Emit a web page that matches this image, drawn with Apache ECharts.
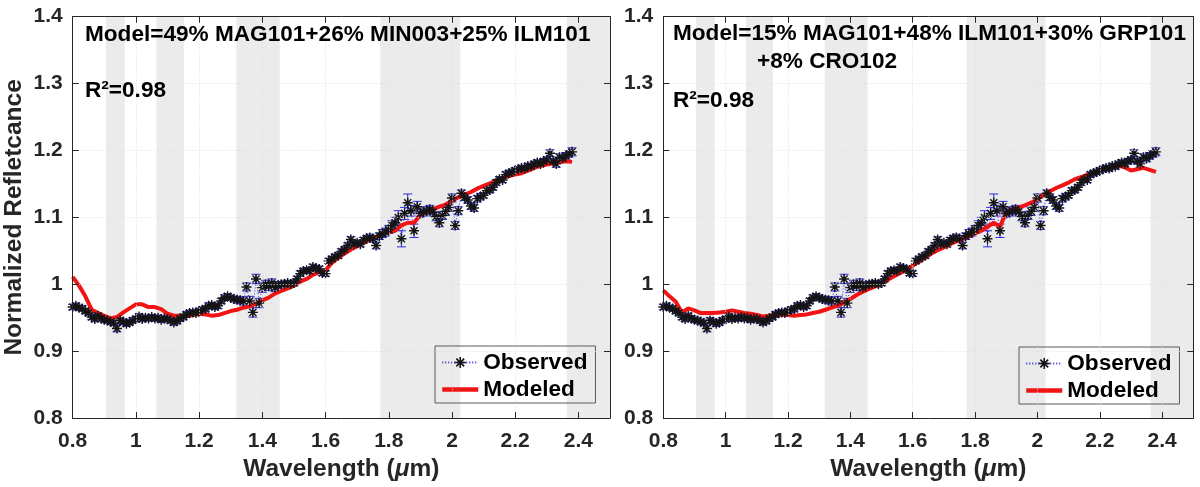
<!DOCTYPE html>
<html>
<head>
<meta charset="utf-8">
<title>Spectral fit</title>
<script src="https://cdn.jsdelivr.net/npm/echarts@6.0.0/dist/echarts.min.js"></script>
<style>
  html, body { margin: 0; padding: 0; background: #fff; }
  #main { width: 1200px; height: 487px; }
</style>
</head>
<body>
<div id="main"></div>
<script>
// observed spectrum (same in both panels), wavelength in micron
var wavelength = [
  0.80,0.81,0.82,0.83,0.84,0.85,0.86,0.87,0.88,0.89,
  0.90,0.91,0.92,0.93,0.94,0.95,0.96,0.97,0.98,0.99,
  1.00,1.01,1.02,1.03,1.04,1.05,1.06,1.07,1.08,1.09,
  1.10,1.11,1.12,1.13,1.14,1.15,1.16,1.17,1.18,1.19,
  1.20,1.21,1.22,1.23,1.24,1.25,1.26,1.27,1.28,1.29,
  1.30,1.31,1.32,1.33,1.34,1.35,1.36,1.37,1.38,1.39,
  1.40,1.41,1.42,1.43,1.44,1.45,1.46,1.47,1.48,1.49,
  1.50,1.51,1.52,1.53,1.54,1.55,1.56,1.57,1.58,1.59,
  1.60,1.61,1.62,1.63,1.64,1.65,1.66,1.67,1.68,1.69,
  1.70,1.71,1.72,1.73,1.74,1.75,1.76,1.77,1.78,1.79,
  1.80,1.81,1.82,1.83,1.84,1.85,1.86,1.87,1.88,1.89,
  1.90,1.91,1.92,1.93,1.94,1.95,1.96,1.97,1.98,1.99,
  2.00,2.01,2.02,2.03,2.04,2.05,2.06,2.07,2.08,2.09,
  2.10,2.11,2.12,2.13,2.14,2.15,2.16,2.17,2.18,2.19,
  2.20,2.21,2.22,2.23,2.24,2.25,2.26,2.27,2.28,2.29,
  2.30,2.31,2.32,2.33,2.34,2.35,2.36,2.37,2.38
];
var observed = [
  0.966,0.968,0.965,0.964,0.960,0.957,0.951,0.948,0.953,0.949,
  0.947,0.946,0.944,0.942,0.934,0.946,0.944,0.941,0.943,0.946,
  0.948,0.952,0.948,0.950,0.949,0.951,0.949,0.950,0.947,0.949,
  0.948,0.946,0.943,0.945,0.949,0.951,0.955,0.957,0.958,0.957,
  0.960,0.962,0.963,0.968,0.969,0.966,0.968,0.975,0.980,0.982,
  0.980,0.978,0.977,0.976,0.975,0.996,0.975,0.958,1.008,0.972,
  0.995,1.000,0.997,1.002,0.995,0.999,1.000,1.001,1.002,1.000,
  1.002,1.008,1.016,1.020,1.021,1.020,1.026,1.024,1.023,1.017,
  1.016,1.035,1.038,1.041,1.043,1.049,1.052,1.058,1.067,1.060,
  1.062,1.060,1.066,1.069,1.070,1.068,1.058,1.072,1.076,1.078,
  1.082,1.088,1.092,1.100,1.068,1.106,1.122,1.110,1.080,1.116,
  1.106,1.108,1.110,1.112,1.108,1.101,1.092,1.103,1.109,1.115,
  1.129,1.088,1.110,1.136,1.130,1.126,1.117,1.114,1.128,1.131,
  1.133,1.140,1.141,1.145,1.152,1.157,1.156,1.164,1.166,1.168,
  1.170,1.172,1.174,1.173,1.177,1.176,1.180,1.182,1.180,1.184,
  1.186,1.196,1.184,1.180,1.190,1.188,1.192,1.195,1.198
];
var obsError = [
  0.004,0.004,0.004,0.004,0.004,0.004,0.004,0.004,0.004,0.004,
  0.004,0.004,0.004,0.004,0.005,0.004,0.004,0.004,0.004,0.004,
  0.004,0.004,0.004,0.004,0.004,0.004,0.004,0.004,0.004,0.004,
  0.004,0.004,0.004,0.004,0.004,0.004,0.004,0.004,0.004,0.004,
  0.004,0.004,0.004,0.004,0.004,0.004,0.004,0.004,0.004,0.004,
  0.004,0.004,0.005,0.005,0.006,0.006,0.007,0.007,0.007,0.007,
  0.007,0.006,0.006,0.006,0.006,0.005,0.004,0.004,0.004,0.004,
  0.004,0.004,0.004,0.004,0.004,0.004,0.004,0.004,0.004,0.004,
  0.004,0.004,0.004,0.004,0.004,0.004,0.004,0.004,0.004,0.004,
  0.004,0.004,0.004,0.004,0.005,0.005,0.005,0.005,0.006,0.006,
  0.006,0.007,0.008,0.010,0.012,0.009,0.013,0.008,0.010,0.008,
  0.006,0.006,0.006,0.006,0.006,0.006,0.006,0.006,0.006,0.006,
  0.006,0.006,0.006,0.005,0.005,0.005,0.005,0.005,0.005,0.005,
  0.004,0.004,0.004,0.004,0.004,0.004,0.004,0.004,0.004,0.004,
  0.004,0.004,0.004,0.004,0.004,0.004,0.004,0.004,0.004,0.004,
  0.004,0.005,0.004,0.005,0.005,0.005,0.005,0.005,0.006
];

// modeled spectra
var modelWavelength = [
  0.80,0.82,0.84,0.86,0.88,0.90,0.92,0.94,0.96,0.98,
  1.00,1.02,1.04,1.06,1.08,1.10,1.12,1.14,1.16,1.18,
  1.20,1.22,1.24,1.26,1.28,1.30,1.32,1.34,1.36,1.38,
  1.40,1.42,1.44,1.46,1.48,1.50,1.52,1.54,1.56,1.58,
  1.60,1.62,1.64,1.66,1.68,1.70,1.72,1.74,1.76,1.78,
  1.80,1.82,1.84,1.86,1.88,1.90,1.92,1.94,1.96,1.98,
  2.00,2.02,2.04,2.06,2.08,2.10,2.12,2.14,2.16,2.18,
  2.20,2.22,2.24,2.26,2.28,2.30,2.32,2.34,2.36,2.38
];
var modelLeft = [
  1.011,0.998,0.982,0.962,0.957,0.953,0.949,0.951,0.958,0.964,
  0.970,0.970,0.966,0.966,0.963,0.956,0.953,0.953,0.953,0.954,
  0.956,0.955,0.953,0.954,0.957,0.960,0.962,0.965,0.967,0.971,
  0.976,0.980,0.986,0.990,0.994,0.998,1.004,1.008,1.014,1.018,
  1.021,1.032,1.040,1.046,1.052,1.057,1.062,1.067,1.071,1.075,
  1.078,1.080,1.088,1.092,1.092,1.104,1.108,1.112,1.116,1.119,
  1.125,1.130,1.134,1.138,1.143,1.147,1.151,1.155,1.158,1.162,
  1.164,1.166,1.170,1.174,1.177,1.179,1.181,1.183,1.184,1.183
];
var modelRight = [
  0.991,0.982,0.974,0.958,0.964,0.961,0.957,0.957,0.957,0.958,
  0.959,0.961,0.959,0.957,0.956,0.954,0.952,0.953,0.954,0.955,
  0.954,0.953,0.954,0.955,0.957,0.959,0.962,0.965,0.968,0.973,
  0.978,0.984,0.989,0.993,0.997,1.001,1.007,1.012,1.017,1.022,
  1.028,1.034,1.040,1.046,1.051,1.055,1.060,1.064,1.068,1.072,
  1.076,1.080,1.086,1.092,1.086,1.108,1.112,1.115,1.118,1.122,
  1.127,1.134,1.139,1.144,1.148,1.152,1.157,1.160,1.164,1.167,
  1.170,1.173,1.176,1.177,1.175,1.170,1.172,1.174,1.171,1.168
];

// shaded wavelength bands [start, end]
var bands = [[0.905, 0.965], [1.065, 1.152], [1.318, 1.455], [1.773, 2.026], [2.363, 2.5]];

var xTicks = { min: 0.8, max: 2.5, interval: 0.2 };
var yTicks = { min: 0.8, max: 1.4, interval: 0.1 };

var panelText = [
  ['Model=49% MAG101+26% MIN003+25% ILM101', '', 'R\u00b2=0.98'],
  ['Model=15% MAG101+48% ILM101+30% GRP101', '+8% CRO102', 'R\u00b2=0.98']
];

var font = 'Liberation Sans, Arial, Helvetica, sans-serif';
var axisCol = '#262626';
var blue = '#2a2ad6';
var red = '#f01414';
var asterisk = 'path://M0 43L100 43L100 57L0 57Z M43 0L57 0L57 100L43 100Z ' +
  'M10 20L20 10L90 80L80 90Z M80 10L90 20L20 90L10 80Z';

var chart = echarts.init(document.getElementById('main'));

function obsPairs() {
  return wavelength.map(function (w, i) { return [w, observed[i]]; });
}
function errTriples() {
  return wavelength.map(function (w, i) { return [w, observed[i], obsError[i]]; });
}
function modelPairs(vals) {
  return modelWavelength.map(function (w, i) { return [w, vals[i]]; });
}

function xAx(g, top) {
  return {
    gridIndex: g, type: 'value', position: top ? 'top' : 'bottom',
    min: xTicks.min, max: xTicks.max, interval: xTicks.interval, z: 5,
    axisLine: { onZero: false, lineStyle: { color: axisCol, width: 1 } },
    axisTick: { inside: true, length: 6, lineStyle: { color: axisCol } },
    axisLabel: { show: !top, showMaxLabel: false, margin: 13, fontSize: 21, fontWeight: 'bold',
      color: axisCol, fontFamily: font },
    splitLine: { show: !top, lineStyle: { color: '#dedede', type: [1, 2], width: 1 } },
    name: top ? '' : 'Wavelength ({mu|\u03bc}m)',
    nameLocation: 'middle', nameGap: 37,
    nameTextStyle: { fontSize: 24.5, fontWeight: 'bold', color: axisCol, fontFamily: font,
      rich: { mu: { fontSize: 24.5, fontWeight: 'bold', fontStyle: 'italic', color: axisCol, fontFamily: font } } }
  };
}
function yAx(g, right, name) {
  return {
    gridIndex: g, type: 'value', position: right ? 'right' : 'left',
    min: yTicks.min, max: yTicks.max, interval: yTicks.interval, z: 5,
    axisLine: { onZero: false, lineStyle: { color: axisCol, width: 1 } },
    axisTick: { inside: true, length: 6, lineStyle: { color: axisCol } },
    axisLabel: { show: !right, margin: 10, fontSize: 21, fontWeight: 'bold',
      color: axisCol, fontFamily: font },
    splitLine: { show: !right, lineStyle: { color: '#dedede', type: [1, 2], width: 1 } },
    name: name || '', nameLocation: 'middle', nameGap: 46,
    nameTextStyle: { fontSize: 24.5, fontWeight: 'bold', color: axisCol, fontFamily: font }
  };
}

function bandSeries(xi, yi) {
  return {
    type: 'custom', xAxisIndex: xi, yAxisIndex: yi, z: 1, silent: true,
    data: bands, encode: { x: [0, 1] },
    renderItem: function (params, api) {
      var cs = params.coordSys;
      var a = api.coord([api.value(0), yTicks.max]);
      var b = api.coord([api.value(1), yTicks.min]);
      return { type: 'rect', shape: { x: a[0], y: cs.y, width: b[0] - a[0], height: cs.height },
        style: { fill: '#ebebeb' } };
    }
  };
}
function errSeries(xi, yi) {
  return {
    type: 'custom', xAxisIndex: xi, yAxisIndex: yi, z: 3, silent: true,
    data: errTriples(), encode: { x: 0, y: 1 },
    renderItem: function (params, api) {
      var x = api.value(0), y = api.value(1), e = api.value(2);
      var hi = api.coord([x, y + e]), lo = api.coord([x, y - e]);
      var w = 4.5, st = { stroke: blue, lineWidth: 1 };
      return { type: 'group', children: [
        { type: 'line', shape: { x1: hi[0], y1: hi[1], x2: lo[0], y2: lo[1] }, style: st },
        { type: 'line', shape: { x1: hi[0] - w, y1: hi[1], x2: hi[0] + w, y2: hi[1] }, style: st },
        { type: 'line', shape: { x1: lo[0] - w, y1: lo[1], x2: lo[0] + w, y2: lo[1] }, style: st }
      ] };
    }
  };
}
function obsSeries(xi, yi) {
  return {
    name: 'Observed', type: 'line', xAxisIndex: xi, yAxisIndex: yi, z: 4,
    data: obsPairs(), showSymbol: true, showAllSymbol: true,
    symbol: asterisk, symbolSize: 10,
    itemStyle: { color: '#141414' },
    lineStyle: { color: blue, width: 1, type: [1, 2] },
    emphasis: { disabled: true }, animation: false
  };
}
function modelSeries(xi, yi, vals) {
  return {
    name: 'Modeled', type: 'line', xAxisIndex: xi, yAxisIndex: yi, z: 4,
    data: modelPairs(vals), symbol: 'none',
    itemStyle: { color: red },
    lineStyle: { color: red, width: 4 },
    emphasis: { disabled: true }, animation: false
  };
}

function legendAt(left, top) {
  return {
    data: ['Observed', { name: 'Modeled', itemStyle: { opacity: 0 }, lineStyle: { color: red, width: 4.5 } }],
    orient: 'vertical', left: left, top: top,
    itemWidth: 36, itemHeight: 14, itemGap: 4, padding: [5, 8, 2, 5],
    borderColor: '#5a5a5a', borderWidth: 1, backgroundColor: 'transparent',
    selectedMode: false,
    textStyle: { fontSize: 22.6, fontWeight: 'bold', color: '#000', fontFamily: font }
  };
}

function label(text, left, top) {
  return { text: text, left: left, top: top, padding: 0,
    textStyle: { fontSize: 22.6, fontWeight: 'bold', color: '#000', fontFamily: font } };
}

var option = {
  animation: false,
  backgroundColor: '#fff',
  grid: [
    { left: 72.7, top: 16.7, width: 537.3, height: 405.6 },
    { left: 663.3, top: 16.7, width: 530, height: 405.6 }
  ],
  title: [
    label(panelText[0][0], 85, 23),
    label(panelText[0][2], 85, 79),
    label(panelText[1][0], 673, 22),
    label(panelText[1][1], 757, 50),
    label(panelText[1][2], 673, 89)
  ],
  legend: [legendAt(435, 346), legendAt(1019, 347)],
  xAxis: [xAx(0, false), xAx(0, true), xAx(1, false), xAx(1, true)],
  yAxis: [yAx(0, false, 'Normalized Refletcance'), yAx(0, true), yAx(1, false), yAx(1, true)],
  series: [
    bandSeries(0, 0), errSeries(0, 0), obsSeries(0, 0), modelSeries(0, 0, modelLeft),
    bandSeries(2, 2), errSeries(2, 2), obsSeries(2, 2), modelSeries(2, 2, modelRight)
  ]
};
chart.setOption(option);
</script>
</body>
</html>
